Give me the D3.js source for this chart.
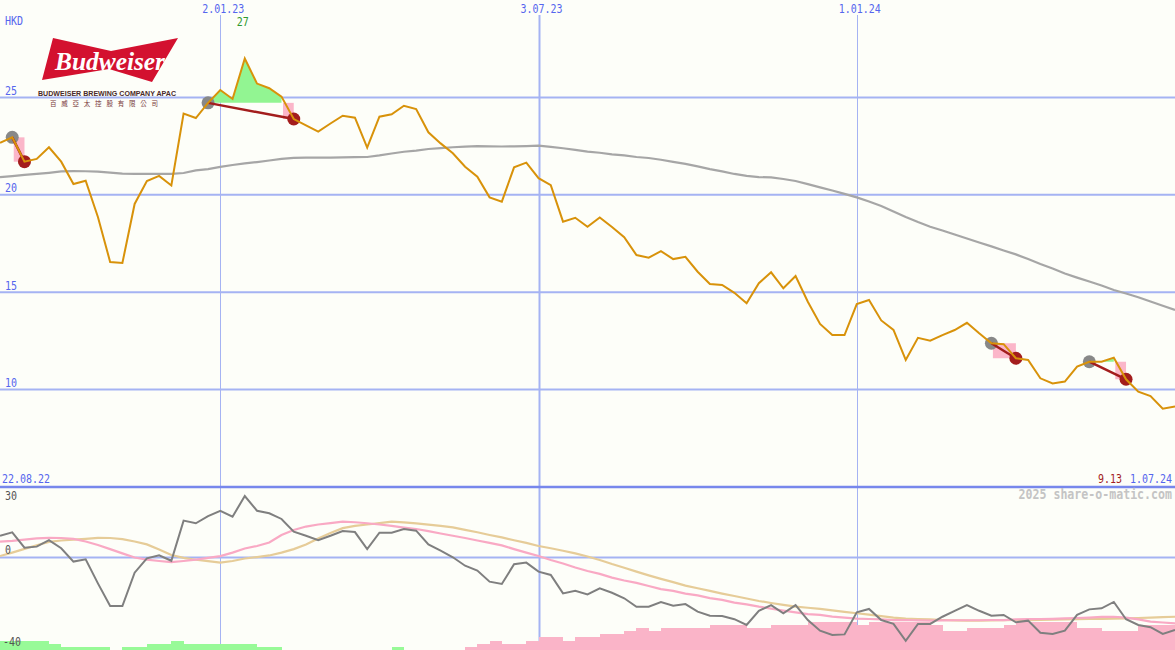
<!DOCTYPE html>
<html><head><meta charset="utf-8">
<script src="https://cdn.jsdelivr.net/npm/d3@7/dist/d3.min.js"></script>
<style>html,body{margin:0;padding:0;background:#fdfef9;}svg{display:block;}</style>
</head><body>
<script>
// ---- data ----
const startDate = new Date(2022, 7, 29), endDate = new Date(2024, 6, 1);
const dates = d3.timeMonday.range(startDate, d3.timeDay.offset(endDate, 1));
const price = [22.67,22.95,21.70,21.84,22.44,21.70,20.55,20.72,18.86,16.55,
16.50,19.53,20.71,20.97,20.48,24.17,23.94,24.72,25.38,24.92,
27.00,25.71,25.47,25.04,23.89,23.56,23.24,23.66,24.06,23.96,
22.42,24.01,24.13,24.57,24.40,23.21,22.64,22.13,21.44,20.93,
19.87,19.65,21.41,21.65,20.85,20.50,18.62,18.82,18.36,18.84,
18.35,17.82,16.91,16.77,17.11,16.70,16.82,16.05,15.42,15.37,
14.97,14.43,15.46,16.02,15.20,15.83,14.51,13.37,12.80,12.80,
14.39,14.60,13.55,13.06,11.52,12.66,12.51,12.80,13.06,13.43,
12.89,12.38,12.33,11.61,11.52,10.58,10.32,10.41,11.18,11.43,
11.43,11.64,10.53,9.89,9.67,9.02,9.13];
const ma = [20.91,20.96,21.02,21.07,21.13,21.20,21.22,21.21,21.19,21.14,
21.09,21.07,21.07,21.07,21.07,21.12,21.25,21.32,21.43,21.53,
21.61,21.68,21.76,21.84,21.90,21.91,21.91,21.91,21.92,21.93,
21.94,22.02,22.12,22.21,22.27,22.35,22.40,22.44,22.47,22.50,
22.49,22.48,22.49,22.50,22.52,22.46,22.39,22.31,22.22,22.16,
22.08,22.02,21.94,21.89,21.80,21.69,21.59,21.46,21.32,21.20,
21.07,20.97,20.91,20.89,20.81,20.71,20.55,20.38,20.22,20.05,
19.87,19.66,19.43,19.14,18.86,18.60,18.36,18.17,17.96,17.76,
17.55,17.35,17.14,16.94,16.70,16.45,16.22,15.96,15.75,15.55,
15.34,15.11,14.93,14.74,14.52,14.30,14.09];
const momentum = [10.6,12.3,4.8,5.3,8.5,4.5,-2.0,-0.9,-12.6,-23.7,
-23.7,-7.4,-0.4,1.1,-1.6,18.0,16.7,20.2,22.8,19.9,
30.0,22.8,21.6,18.8,12.6,10.6,8.5,10.6,12.9,12.4,
4.1,12.1,12.1,13.9,13.1,6.4,3.3,0.1,-4.0,-6.4,
-11.8,-12.9,-3.3,-2.5,-6.9,-8.5,-17.5,-16.2,-18.0,-15.0,
-17.2,-19.9,-24.0,-24.0,-21.7,-23.5,-22.7,-26.4,-28.4,-28.5,
-30.1,-32.9,-26.0,-23.2,-27.2,-23.2,-30.5,-35.7,-37.8,-37.5,
-26.7,-25.1,-30.5,-32.4,-40.6,-32.4,-32.4,-28.9,-26.0,-23.2,
-26.0,-28.4,-28.0,-31.6,-30.8,-36.7,-37.3,-35.7,-28.0,-25.3,
-24.8,-21.7,-30.1,-32.9,-34.0,-37.3,-35.4];
const signalFast = [7.7,8.1,8.7,9.3,9.6,9.5,9.1,7.8,6.1,4.1,
2.0,0.0,-1.0,-1.7,-2.3,-1.7,-1.0,-0.2,0.7,2.4,
4.4,5.6,7.3,11.0,13.4,15.1,16.1,16.8,17.5,17.2,
16.7,16.1,15.4,14.6,13.9,12.9,11.7,10.6,9.5,8.3,
7.1,5.9,4.1,2.4,0.7,-1.2,-2.9,-4.9,-6.6,-8.0,
-9.8,-11.2,-12.4,-13.9,-15.4,-16.3,-17.6,-18.5,-19.8,-20.7,
-22.0,-22.9,-24.0,-24.9,-25.9,-26.8,-27.6,-28.0,-28.8,-29.3,
-29.8,-30.0,-30.2,-30.5,-30.5,-30.7,-30.8,-30.7,-30.6,-30.6,
-30.6,-30.5,-30.5,-30.2,-30.1,-30.0,-29.9,-29.7,-29.5,-29.3,
-29.0,-28.9,-29.3,-30.2,-31.3,-31.7,-32.1];
const signalSlow = [0.7,2.4,4.2,6.0,7.6,8.3,8.7,9.1,9.6,9.5,
9.0,7.8,6.4,3.9,1.2,-0.2,-1.1,-1.8,-2.5,-1.7,
-0.5,0.2,1.0,2.4,4.1,6.3,9.3,12.0,14.3,15.4,
16.1,16.8,17.5,17.1,16.6,16.0,15.4,14.7,13.5,12.3,
11.0,9.8,8.4,7.1,5.6,4.5,3.3,2.0,0.5,-1.2,
-3.2,-5.0,-6.9,-8.7,-10.4,-12.0,-13.7,-15.0,-16.3,-17.6,
-18.8,-20.0,-21.2,-22.2,-23.1,-24.0,-24.5,-25.1,-25.8,-26.5,
-27.2,-27.9,-28.6,-29.3,-29.8,-30.0,-30.2,-30.5,-30.7,-30.8,
-30.8,-30.7,-30.6,-30.5,-30.5,-30.4,-30.3,-30.2,-30.1,-30.0,
-30.0,-29.8,-29.7,-29.5,-29.3,-29.1,-28.9];
const hist = [3,3,3,3,2,1,1,1,1,0,
1,1,2,2,3,2,2,2,2,2,
2,1,1,0,0,0,0,0,0,0,
0,0,1,0,0,0,0,0,-1,-2,
-3,-2,-2,-3,-4,-4,-3,-4,-4,-5,
-5,-6,-7,-6,-7,-7,-7,-7,-8,-8,
-8,-7,-7,-8,-8,-8,-9,-9,-9,-9,
-8,-9,-9,-9,-9,-9,-8,-6,-6,-7,
-7,-7,-8,-9,-9,-9,-9,-9,-7,-7,
-6,-6,-6,-8,-8,-8,-8];
const tradeEntry = [1, 17, 81, 89];
const tradeExit  = [2, 24, 83, 92];
const tickDates = [new Date(2023,0,2), new Date(2023,6,3), new Date(2024,0,1)];
const priceTicks = [25, 20, 15, 10];
const lowerTicks = [30, 0, -40];
const currency = "HKD";
const periodStart = "22.08.22", periodEnd = "1.07.24", lastClose = "9.13";
const maxLabel = "27";

// ---- setup ----
const W = 1175, H = 650;
const svg = d3.select("body").append("svg").attr("width", W).attr("height", H);
svg.append("rect").attr("width", W).attr("height", H).attr("fill", "#fdfef9");

const x = d3.scaleTime().domain([dates[0], dates[dates.length-1]]).range([0, W]);
const y = d3.scaleLinear().domain([5, 30]).range([487, 0]);
const y2 = d3.scaleLinear().domain([-40, 30]).range([639.5, 496]);
const yh = d3.scaleLinear().domain([0, 9]).range([650, 621.7]);
const fmt = d3.timeFormat("%-d.%m.%y");
const xi = i => x(dates[i]);

const BLUE = "#5566ee";
function txt(px, py, s, color, anchor, size, weight) {
  const g = svg.append("g").attr("transform", `translate(${px},${py}) scale(1,1.18)`);
  g.append("text").text(s).attr("fill", color).attr("text-anchor", anchor || "start")
    .style("font-family", "'DejaVu Sans Mono', monospace").style("font-size", (size||10) + "px")
    .style("font-weight", weight || "normal");
}

// grid
const gridC = "#a5b3f3";
svg.append("g").selectAll("line").data(priceTicks).join("line")
  .attr("x1", 0).attr("x2", W).attr("y1", d => y(d)).attr("y2", d => y(d))
  .attr("stroke", gridC).attr("stroke-width", 2);
svg.append("line").attr("x1", 0).attr("x2", W).attr("y1", y2(0)).attr("y2", y2(0))
  .attr("stroke", gridC).attr("stroke-width", 2);
svg.append("g").selectAll("line").data(tickDates).join("line")
  .attr("x1", d => Math.round(x(d)) + 0.5).attr("x2", d => Math.round(x(d)) + 0.5)
  .attr("y1", 15).attr("y2", H)
  .attr("stroke", gridC).attr("stroke-width", (d, i) => i === 1 ? 2 : 1);
svg.append("line").attr("x1", 0).attr("x2", W).attr("y1", y(5)).attr("y2", y(5))
  .attr("stroke", "#7787ec").attr("stroke-width", 2.5);

// histogram bars
svg.append("g").selectAll("rect").data(hist).join("rect")
  .attr("x", (d, i) => xi(i))
  .attr("width", (d, i) => (i < hist.length - 1 ? xi(i+1) - xi(i) : xi(1) - xi(0)) + 0.3)
  .attr("y", d => yh(Math.abs(d)))
  .attr("height", d => H - yh(Math.abs(d)))
  .attr("fill", d => d > 0 ? "#98fa98" : "#fab4c8")
  .attr("shape-rendering", "crispEdges");

// lower-panel lines
const line2 = arr => d3.line().x((d, i) => xi(i)).y(d => y2(d))(arr);
svg.append("path").attr("d", line2(signalSlow)).attr("fill", "none").attr("stroke", "#e6cc98").attr("stroke-width", 2.2);
svg.append("path").attr("d", line2(signalFast)).attr("fill", "none").attr("stroke", "#f9a9c4").attr("stroke-width", 2.2);
svg.append("path").attr("d", line2(momentum)).attr("fill", "none").attr("stroke", "#7f7f7f").attr("stroke-width", 2);

// main MA
svg.append("path").attr("d", d3.line().x((d, i) => xi(i)).y(d => y(d))(ma))
  .attr("fill", "none").attr("stroke", "#a6a6a6").attr("stroke-width", 2.2);

// trades
tradeEntry.forEach((en, k) => {
  const ex = tradeExit[k];
  const level = price[en];
  let lastAbove = en;
  for (let i = en; i < ex; i++) if (price[i] >= level) lastAbove = i;
  if (lastAbove > en) {
    const idx = d3.range(en, lastAbove + 1);
    svg.append("path").attr("d", d3.area().x(i => xi(i)).y0(y(level)).y1(i => y(Math.max(price[i], level)))(idx))
      .attr("fill", "#92f592");
  }
  svg.append("rect").attr("x", xi(lastAbove) + 1.5).attr("width", xi(ex) - xi(lastAbove) - 1.5)
    .attr("y", y(level)).attr("height", y(price[ex]) - y(level)).attr("fill", "#fbb6c9");
  svg.append("circle").attr("cx", xi(en)).attr("cy", y(level)).attr("r", 6.5).attr("fill", "#888888");
  svg.append("circle").attr("cx", xi(ex)).attr("cy", y(price[ex])).attr("r", 6.5).attr("fill", "#a31d1d");
  svg.append("line").attr("x1", xi(en)).attr("y1", y(level)).attr("x2", xi(ex)).attr("y2", y(price[ex]))
    .attr("stroke", "#a31d1d").attr("stroke-width", 2.5);
});

// price line
svg.append("path").attr("d", d3.line().x((d, i) => xi(i)).y(d => y(d))(price))
  .attr("fill", "none").attr("stroke", "#d8920a").attr("stroke-width", 2);

// ---- logo ----
const logo = svg.append("g");
logo.append("path").attr("d", "M53,38 L111,51 L178,38 L152,82 L109,69 L42,80 Z").attr("fill", "#d3112f");
logo.append("text").text("Budweiser").attr("x", 110).attr("y", 70).attr("text-anchor", "middle")
  .attr("fill", "#ffffff").attr("textLength", 110).attr("lengthAdjust", "spacingAndGlyphs")
  .style("font-family", "'Liberation Serif', serif").style("font-style", "italic").style("font-weight", "bold").style("font-size", "25px");
logo.append("text").text("BUDWEISER BREWING COMPANY APAC").attr("x", 38).attr("y", 96)
  .attr("fill", "#4a2a2a").attr("textLength", 138).attr("lengthAdjust", "spacingAndGlyphs")
  .style("font-family", "'Liberation Sans', Arial, sans-serif").style("font-weight", "bold").style("font-size", "7px");
logo.append("text").text("百威亞太控股有限公司").attr("x", 50).attr("y", 106)
  .attr("fill", "#7a3a3a").attr("textLength", 108).attr("lengthAdjust", "spacing")
  .style("font-family", "'Noto Sans CJK TC', sans-serif").style("font-size", "6.5px");

// ---- texts ----
txt(5, 24.5, currency, BLUE);
priceTicks.forEach(t => txt(5, y(t) - 2.5, String(t), BLUE));
tickDates.forEach(d => txt(x(d) + 3, 13, fmt(d), BLUE, "middle"));
const peakI = price.indexOf(d3.max(price));
txt(xi(peakI) - 2, 25.5, maxLabel, "#2f9a2f", "middle");
txt(2, 482.5, periodStart, BLUE);
txt(1172, 482.5, periodEnd, BLUE, "end");
txt(1122, 482.5, lastClose, "#a31d1d", "end");
txt(1172, 499, "2025 share-o-matic.com", "#c4c4c4", "end", 11.6, "bold");
txt(5, 500, String(lowerTicks[0]), "#555555");
txt(5, 553.5, String(lowerTicks[1]), "#555555");
txt(3, 646, String(lowerTicks[2]), "#555555");
</script>
</body></html>
